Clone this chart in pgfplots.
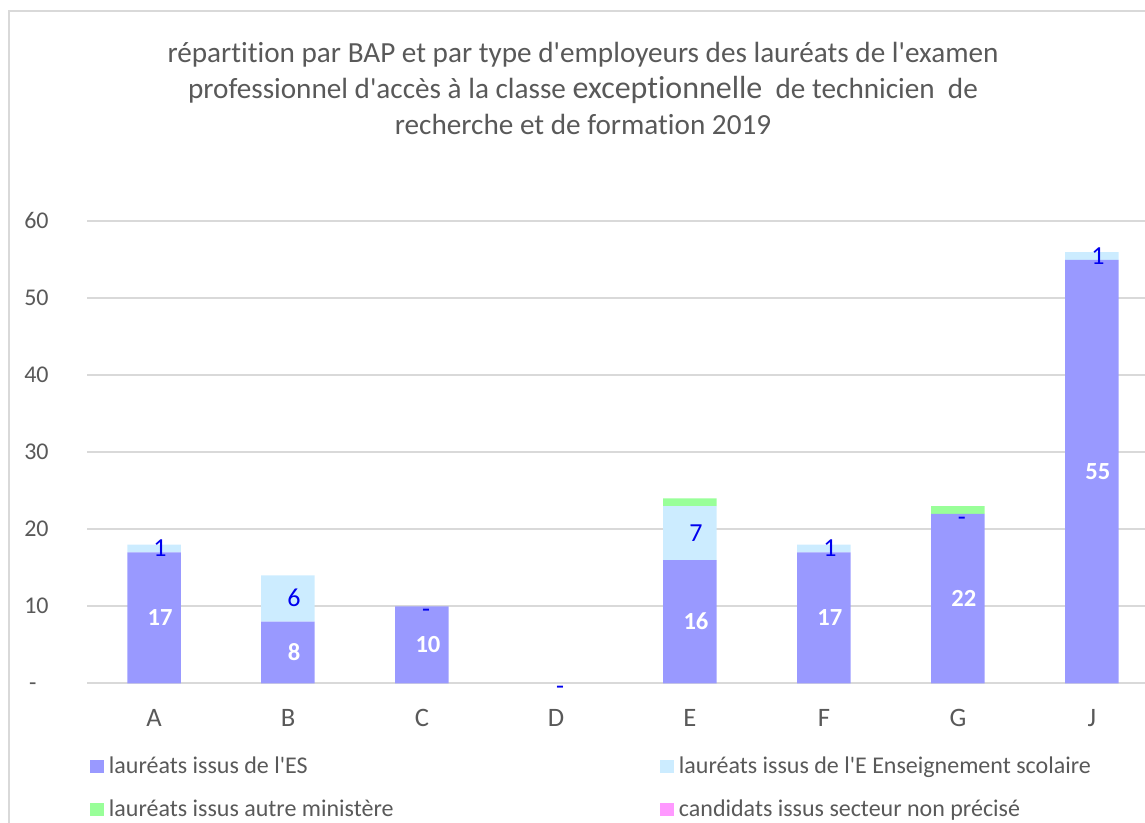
\documentclass[border=0pt]{standalone}
\usepackage{pgfplots}
\pgfplotsset{compat=1.18}
\usepackage{fontspec}
\setmainfont{Carlito}[Ligatures={NoCommon}]
\newcommand\q{\textquotesingle}
\definecolor{txt}{HTML}{595959}
\definecolor{esc}{HTML}{9999FF}
\definecolor{scol}{HTML}{CCECFF}
\definecolor{autre}{HTML}{99FF99}
\definecolor{nonp}{HTML}{FF99FF}
\definecolor{gridc}{HTML}{D9D9D9}
\definecolor{lab}{HTML}{0000EE}
\begin{document}
\begin{tikzpicture}
\draw[gridc, line width=1pt] (4.5pt,0pt) -- (4.5pt,406pt) -- (572.5pt,406pt);
\node[txt, align=center, font=\fontsize{14.6}{18}\selectfont] at (291.5pt,367.25pt)
 {répartition par BAP et par type d\q employeurs des lauréats de l\q examen\\
  professionnel d\q accès à la classe {\fontsize{16}{18}\selectfont exceptionnelle}~ de technicien~ de\\
  recherche et de formation 2019};
\begin{axis}[
  at={(77pt,69.85pt)}, anchor=origin, scale only axis,
  width=529pt, height=231pt,
  ybar stacked, bar width=26.75pt,
  xmin=-0.5, xmax=7.396, ymin=0, ymax=60, clip=false,
  xtick={0,...,7}, xticklabels={A,B,C,D,E,F,G,J},
  ytick={0,10,...,60}, yticklabels={{-\hphantom{0}},10,20,30,40,50,60},
  axis line style={draw=none}, tick style={draw=none}, major tick length=0pt,
  ymajorgrids, grid style={gridc, line width=1pt},
  yticklabel style={font=\fontsize{12}{14}\selectfont, text=txt, inner sep=0pt, anchor=base east, xshift=-19pt, yshift=-3.8pt},
  xticklabel style={font=\fontsize{13.3}{15}\selectfont, text=txt, inner sep=0pt, anchor=base, yshift=-21.85pt},
  legend columns=2,
  legend cell align=left,
  legend style={draw=none, fill=none, inner sep=0pt, outer sep=0pt,
    at={(axis description cs:0.0028,-0.159)}, anchor=north west,
    font=\fontsize{12}{14}\selectfont, text=txt, row sep=11.5pt,
    nodes={inner sep=0pt},
    /tikz/every odd column/.append style={column sep=2.5pt}},
  legend image code/.code={\fill[#1, draw=none] (0pt,-3.25pt) rectangle (7pt,3.25pt);},
]
\addplot[fill=esc, draw=none] coordinates {(0,17)(1,8)(2,10)(3,0)(4,16)(5,17)(6,22)(7,55)};
\addplot[fill=scol, draw=none] coordinates {(0,1)(1,6)(2,0)(3,0)(4,7)(5,1)(6,0)(7,1)};
\addplot[fill=autre, draw=none] coordinates {(0,0)(1,0)(2,0)(3,0)(4,1)(5,0)(6,1)(7,0)};
\addplot[fill=nonp, draw=none] coordinates {(0,0)(1,0)(2,0)(3,0)(4,0)(5,0)(6,0)(7,0)};
\legend{{\makebox[275.5pt][l]{lauréats issus de l\q ES}},{lauréats issus de l\q E Enseignement scolaire},{\makebox[275.5pt][l]{lauréats issus autre ministère}},{candidats issus secteur non précisé}}
\end{axis}
\begin{axis}[
  at={(77pt,69.85pt)}, anchor=origin, scale only axis,
  width=529pt, height=231pt,
  xmin=-0.5, xmax=7.396, ymin=0, ymax=60, clip=false, hide axis,
]
\addplot[draw=none, nodes near coords, point meta=explicit symbolic,
  every node near coord/.append style={anchor=center, text=white, inner sep=0pt,
    font=\bfseries\fontsize{12.3}{14}\selectfont, text height=7.8pt, text depth=0pt, xshift=3pt}]
  table[meta=lab] {
x y lab
0 8.5 17
1 4 8
2 5 10
4 8 16
5 8.5 17
6 11 22
7 27.5 55
};
\addplot[draw=none, nodes near coords, point meta=explicit symbolic,
  every node near coord/.append style={anchor=center, text=lab, inner sep=0pt,
    font=\fontsize{13}{15}\selectfont, text height=8.2pt, text depth=0pt, xshift=3pt}]
  table[meta=lab] {
x y lab
0 17.5 1
1 11 6
4 19.5 7
5 17.5 1
7 55.5 1
};
\addplot[draw=none, nodes near coords, point meta=explicit symbolic,
  every node near coord/.append style={anchor=center, text=lab, inner sep=0pt,
    font=\fontsize{13}{15}\selectfont, text height=8.2pt, text depth=0pt, xshift=2pt, yshift=-1.5pt}]
  table[meta=lab] {
x y lab
2 10 -
3 0 -
6 22 -
};
\end{axis}
\pgfresetboundingbox
\path[use as bounding box] (0pt,0pt) rectangle (572.5pt,411.5pt);
\end{tikzpicture}
\end{document}
